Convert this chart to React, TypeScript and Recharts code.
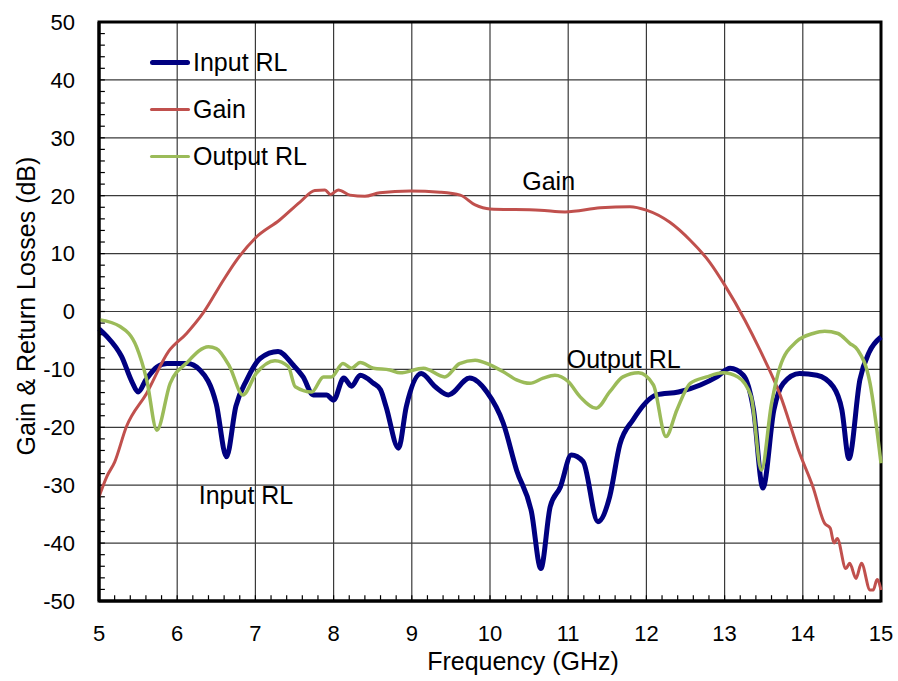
import React from 'react'
import {
  LineChart,
  Line,
  XAxis,
  YAxis,
  CartesianGrid,
  ReferenceLine,
  ReferenceArea,
  ReferenceDot,
  Legend
} from 'recharts'

// Frequency (GHz) / level (dB) pairs for each trace
const inputFreq = [5.0, 5.1, 5.29, 5.42, 5.5, 5.6, 5.74, 5.87, 6.13, 6.29, 6.5, 6.63, 6.75, 6.89, 7.06, 7.29, 7.48, 7.61, 7.74, 7.91, 8.0, 8.13, 8.23, 8.34, 8.51, 8.6, 8.67, 8.83, 8.93, 9.12, 9.3, 9.47, 9.74, 9.96, 10.17, 10.34, 10.53, 10.65, 10.77, 10.9, 11.04, 11.19, 11.38, 11.53, 11.66, 11.83, 12.13, 12.41, 12.69, 12.9, 13.07, 13.24, 13.37, 13.49, 13.63, 13.75, 13.96, 14.18, 14.39, 14.5, 14.59, 14.73, 14.85, 15.0]
const inputRL = [-3, -4.3, -7.8, -12.1, -13.9, -11.8, -9.6, -9.0, -9.0, -10.1, -16, -25.1, -16.4, -11.8, -8.1, -6.9, -9.2, -11.3, -14.4, -14.4, -15.3, -11.5, -12.9, -11.0, -12.4, -13.5, -16.4, -23.6, -16.4, -10.7, -13.0, -14.4, -11.5, -13.9, -19.3, -27.4, -34.6, -44.4, -33.7, -30.3, -24.8, -25.9, -36.3, -32.0, -23, -18.7, -14.4, -13.9, -12.7, -11.3, -9.8, -11.0, -17.0, -30.5, -17.0, -12.4, -10.7, -11.0, -13.0, -17, -25.4, -11.8, -7, -4.4]

const gainFreq = [5.0, 5.1, 5.2, 5.35, 5.61, 5.89, 6.12, 6.33, 6.59, 6.74, 7.0, 7.31, 7.57, 7.76, 7.89, 7.96, 8.06, 8.21, 8.4, 8.59, 8.98, 9.36, 9.62, 9.81, 10.0, 10.64, 10.96, 11.41, 11.79, 12.0, 12.3, 12.56, 12.81, 13.0, 13.26, 13.45, 13.71, 13.96, 14.13, 14.28, 14.35, 14.4, 14.44, 14.55, 14.6, 14.68, 14.75, 14.86, 14.9, 14.95, 15.0]
const gain = [-32, -28.5, -26, -19.9, -14.1, -6.9, -3.8, -0.3, 5.4, 8.5, 12.7, 15.8, 18.9, 20.9, 21.0, 20.2, 21.0, 20.1, 19.9, 20.5, 20.8, 20.6, 20.1, 18.4, 17.7, 17.5, 17.2, 17.9, 18.1, 17.5, 15.4, 12.3, 8.5, 4.6, -1.5, -6.6, -14.4, -24.5, -30.3, -36.6, -37.4, -40.0, -39.2, -44.4, -43.5, -46.1, -43.5, -48.1, -48.1, -46.3, -48.1]

const outputFreq = [5.0, 5.27, 5.48, 5.61, 5.74, 5.91, 6.12, 6.4, 6.5, 6.67, 6.84, 7.01, 7.25, 7.42, 7.51, 7.72, 7.87, 7.97, 8.12, 8.23, 8.34, 8.51, 8.72, 8.85, 9.15, 9.42, 9.61, 9.81, 10.0, 10.17, 10.34, 10.51, 10.68, 10.83, 11.0, 11.15, 11.36, 11.53, 11.7, 11.9, 12.09, 12.25, 12.39, 12.56, 12.77, 12.98, 13.17, 13.34, 13.47, 13.6, 13.71, 13.92, 14.13, 14.28, 14.45, 14.6, 14.7, 14.86, 15.0]
const outputRL = [-1.4, -2.6, -6.1, -11.8, -20.5, -12.4, -8.9, -6.1, -6.4, -9.5, -14.4, -10.7, -8.5, -9.5, -13.0, -13.9, -11.3, -11.3, -9.0, -9.8, -8.8, -9.8, -10.1, -10.6, -9.8, -11.3, -9.0, -8.4, -9.2, -10.4, -11.8, -12.4, -11.5, -11.0, -12.1, -14.7, -16.7, -13.9, -11.3, -10.6, -12.7, -21.6, -17.0, -12.4, -11.3, -10.6, -11.3, -14.7, -27.4, -15.9, -9.5, -5.2, -3.8, -3.4, -3.8, -5.5, -6.6, -12.4, -26.2]

const freqTicks = [5, 6, 7, 8, 9, 10, 11, 12, 13, 14, 15]
const dbTicks = [-50, -40, -30, -20, -10, 0, 10, 20, 30, 40, 50]

const toPoints = (xs: number[], ys: number[]) => xs.map((f, i) => ({ f, v: ys[i] }))

const series = [
  { name: 'Input RL', color: '#000080', width: 5, data: toPoints(inputFreq, inputRL) },
  { name: 'Gain', color: '#C0504D', width: 3, data: toPoints(gainFreq, gain) },
  { name: 'Output RL', color: '#9BBB59', width: 3.5, data: toPoints(outputFreq, outputRL) }
]

// small inward ticks: every 0.2 GHz and every 2 dB
const minorX = Array.from({ length: 51 }, (_, i) => +(5 + i * 0.2).toFixed(1))
const minorY = Array.from({ length: 51 }, (_, i) => -50 + i * 2)

const FONT = '"Liberation Sans", Arial, sans-serif'
const TICK = { fill: '#000', fontSize: 22, fontFamily: FONT }
const NOTE = { position: 'center' as const, fontSize: 25, fill: '#000', fontFamily: FONT }

function LegendBox() {
  return (
    <div style={{ fontFamily: FONT, fontSize: 25, color: '#000', lineHeight: 1 }}>
      {series.map((s) => (
        <div key={s.name} style={{ display: 'flex', alignItems: 'center', height: 47 }}>
          <div style={{ width: 40, height: s.width, background: s.color, borderRadius: 3, marginRight: 3 }} />
          <span>{s.name}</span>
        </div>
      ))}
    </div>
  )
}

export default function App() {
  return (
    <div style={{ position: 'absolute', left: 0, top: 0, background: '#fff', fontFamily: FONT }}>
      <LineChart width={898} height={681} margin={{ top: 22, right: 17, bottom: 0, left: 0 }}>
        <CartesianGrid stroke="#3a3a3a" strokeWidth={1.2} />
        <XAxis
          dataKey="f"
          type="number"
          domain={[5, 15]}
          ticks={freqTicks}
          allowDuplicatedCategory={false}
          height={80}
          tickSize={0}
          tickMargin={24}
          axisLine={{ stroke: '#000', strokeWidth: 3 }}
          tick={TICK}
          label={{
            content: () => (
              <text x={523} y={661} textAnchor="middle" dominantBaseline="central" fontSize={25} fill="#000" fontFamily={FONT}>
                Frequency (GHz)
              </text>
            )
          }}
        />
        <YAxis
          type="number"
          domain={[-50, 50]}
          ticks={dbTicks}
          width={99}
          tickSize={0}
          tickMargin={24}
          axisLine={{ stroke: '#000', strokeWidth: 3 }}
          tick={TICK}
          label={{
            content: () => (
              <text x={26} y={306} transform="rotate(-90 26 306)" textAnchor="middle" dominantBaseline="central" fontSize={25} fill="#000" fontFamily={FONT}>
                Gain &amp; Return Losses (dB)
              </text>
            )
          }}
        />
        {minorX.map((x) => (
          <ReferenceLine key={'mx' + x} segment={[{ x, y: -50 }, { x, y: -49 }]} stroke="#000" strokeWidth={1.2} />
        ))}
        {minorY.map((y) => (
          <ReferenceLine key={'my' + y} segment={[{ x: 5, y }, { x: 5.075, y }]} stroke="#000" strokeWidth={1.2} />
        ))}
        <ReferenceArea x1={5} x2={15} y1={-50} y2={50} fill="none" stroke="#000" strokeWidth={3} />
        {series.map((s) => (
          <Line
            key={s.name}
            data={s.data}
            dataKey="v"
            name={s.name}
            type="monotone"
            stroke={s.color}
            strokeWidth={s.width}
            dot={false}
            isAnimationActive={false}
          />
        ))}
        <ReferenceDot x={10.75} y={22.5} r={0} fill="none" stroke="none" label={{ value: 'Gain', ...NOTE }} />
        <ReferenceDot x={11.71} y={-8.2} r={0} fill="none" stroke="none" label={{ value: 'Output RL', ...NOTE }} />
        <ReferenceDot x={6.88} y={-31.7} r={0} fill="none" stroke="none" label={{ value: 'Input RL', ...NOTE }} />
        <Legend
          layout="horizontal"
          align="center"
          verticalAlign="middle"
          wrapperStyle={{ left: 150, top: 39, width: 220 }}
          content={() => <LegendBox />}
        />
      </LineChart>
    </div>
  )
}
